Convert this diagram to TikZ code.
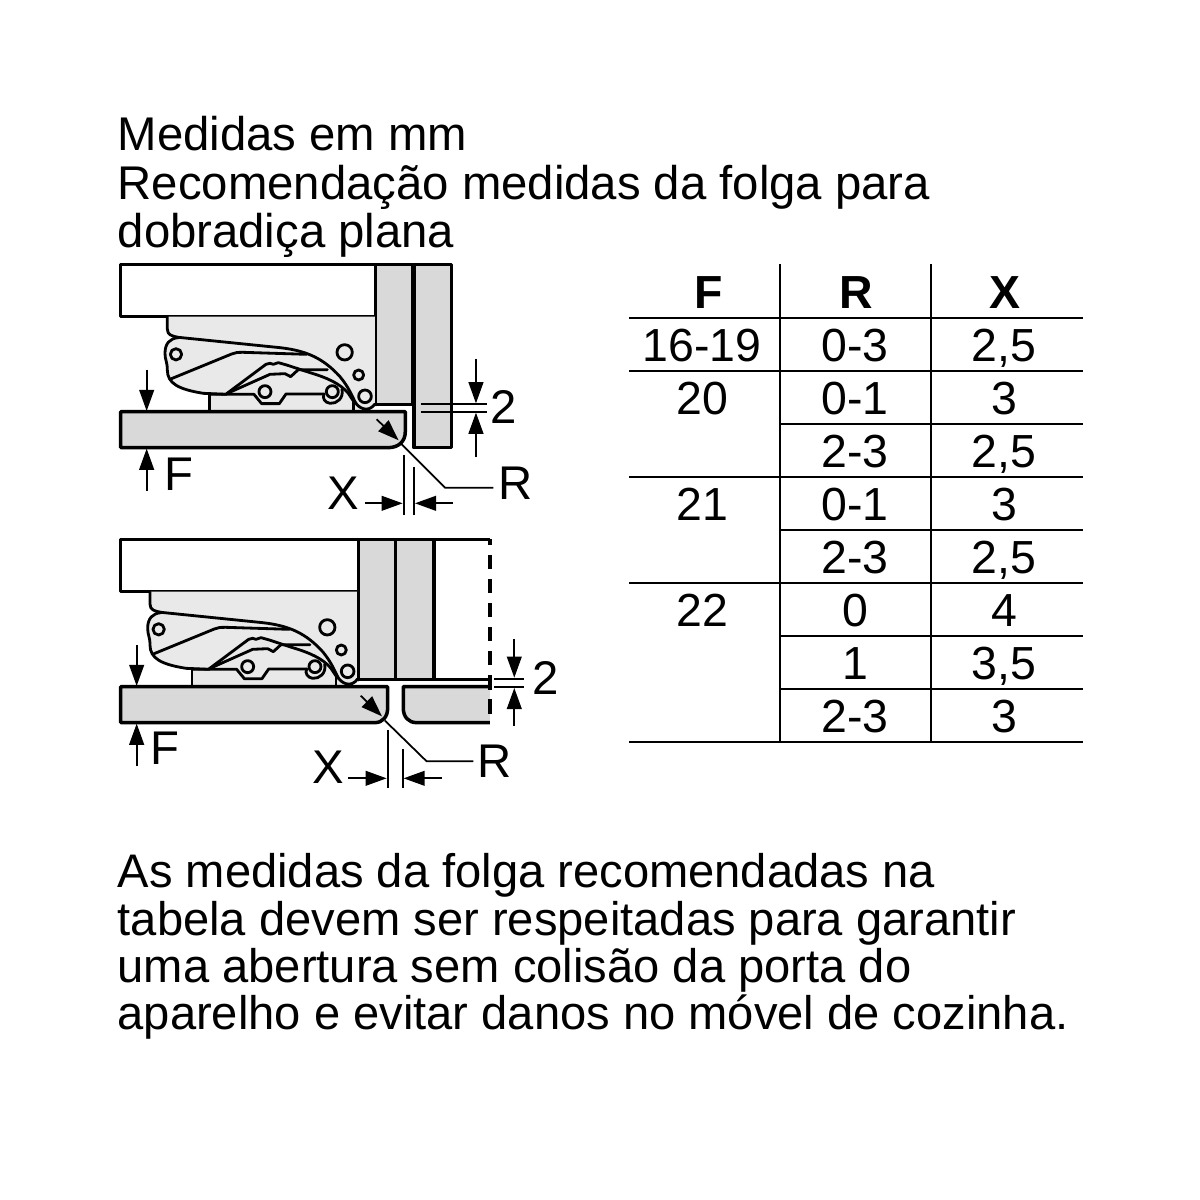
\documentclass[tikz,border=0pt]{standalone}
\usepackage{fontspec}
\setmainfont{Liberation Sans}
\usetikzlibrary{arrows.meta}
\definecolor{panelgray}{HTML}{D9D9D9}
\definecolor{hingegray}{HTML}{E9E9E9}
\tikzset{
  thickline/.style={line width=1pt,black,line join=round},
  hingeline/.style={line width=0.8pt,black,line join=round,line cap=round},
  thinline/.style={line width=0.5pt,black},
  dimarrow/.style={line width=0.5pt,black,-{Triangle[length=6pt,width=4.2pt]}},
  bigtext/.style={font=\fontsize{13.45}{16}\selectfont,inner sep=0pt,anchor=base west},
  notetext/.style={font=\fontsize{13.4}{16}\selectfont,inner sep=0pt,anchor=base west},
  celltext/.style={font=\fontsize{13.2}{16}\selectfont,inner sep=0pt,anchor=base},
  headtext/.style={font=\fontsize{13.2}{16}\selectfont\bfseries,inner sep=0pt,anchor=base},
  tablerule/.style={line width=0.5pt,black},
  tablebar/.style={line width=0.8pt,black}
}
\newcommand{\hingepart}{%
  \fill [hingegray] (172,185) -- (797,185) -- (797,450) -- (730,470) -- (298,470) -- (298,418) -- (250,412) .. controls (200,400) and (172,380) .. (170,330) -- (165,295) .. controls (165,265) and (180,250) .. (205,248) .. controls (185,243) and (172,240) .. (172,222) -- cycle;
  \draw [hingeline] (172,185) -- (172,222) .. controls (172,240) and (185,243) .. (205,247) -- (510,278) .. controls (590,287) and (640,310) .. (690,365) .. controls (715,395) and (725,420) .. (735,440) .. controls (745,460) and (775,475) .. (795,447);
  \draw [hingeline] (205,248) .. controls (180,250) and (165,265) .. (165,295) .. controls (165,315) and (172,320) .. (172,345) .. controls (172,385) and (205,403) .. (280,415) -- (350,418);
  \draw [hingeline] (182,372) -- (365,297) .. controls (375,292) and (385,292) .. (400,292) -- (590,298);
  \draw [hingeline] (350,416) -- (468,328) -- (480,325) -- (490,328) -- (505,323) -- (530,330) -- (600,353) .. controls (650,368) and (690,385) .. (715,415) -- (735,445);
  \draw [hingeline] (350,416) -- (480,358) -- (525,356) -- (542,365) -- (565,344) -- (652,344);
  \draw [hingeline] (298,418) -- (432,418) -- (455,446) -- (508,446) -- (528,417) -- (642,417);
  \draw [hingeline] (298,418) -- (298,470);
  \draw [hingeline] (730,437) -- (730,470);
  \draw [hingeline] (798,185) -- (798,450);
  \draw [hingeline] (696,402) .. controls (702,430) and (680,447) .. (660,445) .. controls (645,443) and (636,430) .. (642,417);
  \draw [hingeline] (198,298) circle (17);
  \draw [hingeline] (704,292) circle (23);
  \draw [hingeline] (746,360) circle (15);
  \draw [hingeline] (765,424) circle (19);
  \draw [hingeline] (465,410) circle (18);
  \draw [hingeline] (667,410) circle (18);
}
\begin{document}
\begin{tikzpicture}[x=0.01cm,y=-0.01cm]
  \useasboundingbox (0,0) rectangle (1200,1200);
  % heading
  \node [bigtext] (head1) at (117,150) {Medidas em mm};
  \node [bigtext] (head2) at (117,199) {Recomendação medidas da folga para};
  \node [bigtext] (head3) at (117,247) {dobradiça plana};
  % upper drawing
  \begin{scope}[shift={(110,255)},scale=0.3333]
    \draw [thickline,fill=white] (32,28) rectangle (797,185);
    \draw [thickline,fill=panelgray] (797,28) rectangle (907,448);
    \draw [thickline,fill=panelgray] (912,28) rectangle (1024,578);
    \hingepart
    \draw [thickline] (797,448) -- (907,448);
    \draw [thickline,fill=panelgray] (32,470) -- (886,470) -- (886,530) .. controls (886,560) and (865,578) .. (835,578) -- (32,578) -- cycle;
    \draw [dimarrow] (110,345) -- (110,468);
    \draw [dimarrow] (110,708) -- (110,581);
    \node [bigtext] (upperF) at (162,708) {F};
    \draw [thinline] (932,448) -- (1130,448);
    \draw [thinline] (932,470) -- (1130,470);
    \draw [dimarrow] (1098,312) -- (1098,445);
    \draw [dimarrow] (1098,607) -- (1098,473);
    \node [bigtext] (upperTwo) at (1140,505) {2};
    \draw [dimarrow] (800,493) -- (866,556);
    \draw [thinline] (872,565) -- (1005,698) -- (1150,698);
    \node [bigtext] (upperR) at (1162,735) {R};
    \draw [thinline] (881,600) -- (881,780);
    \draw [thinline] (912,635) -- (912,780);
    \draw [dimarrow] (765,745) -- (878,745);
    \draw [dimarrow] (1028,745) -- (915,745);
    \node [bigtext] (upperX) at (651,765) {X};
  \end{scope}
  % lower drawing
  \begin{scope}[shift={(110,530)},scale=0.3333]
    \draw [thickline,fill=white] (32,28) rectangle (745,185);
    \draw [thickline,fill=panelgray] (745,28) rectangle (857,448);
    \draw [thickline,fill=panelgray] (857,28) rectangle (972,448);
    \draw [thickline] (972,28) -- (1140,28);
    \draw [thickline] (972,448) -- (1140,448);
    \begin{scope}[shift={(-52,0)}]
      \hingepart
    \end{scope}
    \draw [thickline,fill=panelgray] (32,470) -- (833,470) -- (833,535) .. controls (833,560) and (818,578) .. (795,578) -- (32,578) -- cycle;
    \fill [panelgray] (880,470) -- (1140,470) -- (1140,578) -- (920,578) .. controls (895,578) and (880,560) .. (880,535) -- cycle;
    \draw [thickline] (1140,470) -- (880,470) -- (880,535) .. controls (880,560) and (895,578) .. (920,578) -- (1140,578);
    \draw [thickline,dash pattern=on 4.1pt off 2.75pt,dash phase=2.5pt] (1140,28) -- (1140,578);
    \draw [dimarrow] (80,345) -- (80,468);
    \draw [dimarrow] (80,708) -- (80,581);
    \node [bigtext] (lowerF) at (120,703) {F};
    \draw [thinline] (1152,447) -- (1243,447);
    \draw [thinline] (1152,470) -- (1243,470);
    \draw [dimarrow] (1213,328) -- (1213,443);
    \draw [dimarrow] (1213,588) -- (1213,474);
    \node [bigtext] (lowerTwo) at (1265,495) {2};
    \draw [dimarrow] (752,497) -- (816,559);
    \draw [thinline] (825,572) -- (950,694) -- (1090,694);
    \node [bigtext] (lowerR) at (1100,742) {R};
    \draw [thinline] (833,600) -- (833,775);
    \draw [thinline] (878,658) -- (878,775);
    \draw [dimarrow] (715,745) -- (830,745);
    \draw [dimarrow] (995,745) -- (881,745);
    \node [bigtext] (lowerX) at (604,760) {X};
  \end{scope}
  % table
  \draw [tablerule] (629,318) -- (1083,318);
  \draw [tablerule] (629,371) -- (1083,371);
  \draw [tablerule] (780,424) -- (1083,424);
  \draw [tablerule] (629,477) -- (1083,477);
  \draw [tablerule] (780,530) -- (1083,530);
  \draw [tablerule] (629,583) -- (1083,583);
  \draw [tablerule] (780,636) -- (1083,636);
  \draw [tablerule] (780,689) -- (1083,689);
  \draw [tablerule] (629,742) -- (1083,742);
  \draw [tablebar] (780,264) -- (780,742);
  \draw [tablebar] (931,264) -- (931,742);
  \node [headtext] (headF) at (709,308) {F};
  \node [headtext] (headR) at (856,308) {R};
  \node [headtext] (headX) at (1005,308) {X};
  \node [celltext] (f1) at (702,361.5) {16-19};
  \node [celltext] (r1) at (855,361.5) {0-3};
  \node [celltext] (x1) at (1004,361.5) {2,5};
  \node [celltext] (f2) at (702,414.5) {20};
  \node [celltext] (r2) at (855,414.5) {0-1};
  \node [celltext] (x2) at (1004,414.5) {3};
  \node [celltext] (r3) at (855,467.5) {2-3};
  \node [celltext] (x3) at (1004,467.5) {2,5};
  \node [celltext] (f4) at (702,520.5) {21};
  \node [celltext] (r4) at (855,520.5) {0-1};
  \node [celltext] (x4) at (1004,520.5) {3};
  \node [celltext] (r5) at (855,573.5) {2-3};
  \node [celltext] (x5) at (1004,573.5) {2,5};
  \node [celltext] (f6) at (702,626.5) {22};
  \node [celltext] (r6) at (855,626.5) {0};
  \node [celltext] (x6) at (1004,626.5) {4};
  \node [celltext] (r7) at (855,679.5) {1};
  \node [celltext] (x7) at (1004,679.5) {3,5};
  \node [celltext] (r8) at (855,732.5) {2-3};
  \node [celltext] (x8) at (1004,732.5) {3};
  % note below
  \node [notetext] (note1) at (117,887) {As medidas da folga recomendadas na};
  \node [notetext] (note2) at (117,935) {tabela devem ser respeitadas para garantir};
  \node [notetext] (note3) at (117,982) {uma abertura sem colisão da porta do};
  \node [notetext] (note4) at (117,1029) {aparelho e evitar danos no móvel de cozinha.};
\end{tikzpicture}
\end{document}
